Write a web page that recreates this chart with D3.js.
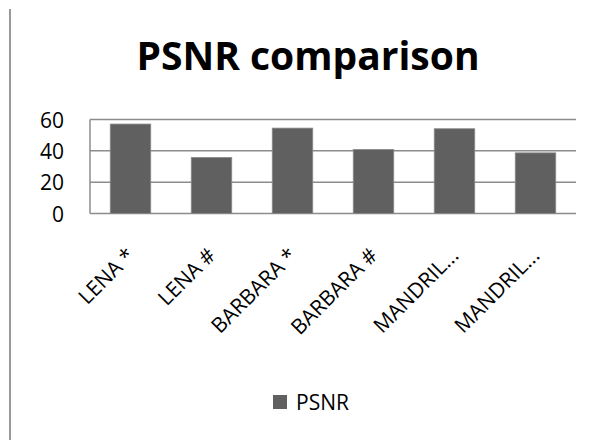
<!DOCTYPE html>
<html>
<head>
<meta charset="utf-8">
<script src="https://cdn.jsdelivr.net/npm/d3@7"></script>
<style>
  body { margin: 0; background: #fff; }
  svg { font-family: "Open Sans", "Noto Sans", sans-serif; }
</style>
</head>
<body>
<main></main>
<script>
const w = 602;
const h = 440;

const categories = ["LENA *", "LENA #", "BARBARA *", "BARBARA #", "MANDRIL...", "MANDRIL..."];
const psnr = [57.1, 35.8, 54.5, 40.9, 54.1, 38.7];
const yTicks = [0, 20, 40, 60];

const plotLeft = 90;
const plotRight = 576;
const plotTop = 119.5;
const plotBottom = 213.5;

const svg = d3.select("main")
    .append("svg")
    .attr("width", w)
    .attr("height", h);

// gray line at left border
svg.append("line")
    .attr("x1", 10).attr("x2", 10)
    .attr("y1", 9).attr("y2", h)
    .attr("stroke", "#999")
    .attr("stroke-width", 2);

svg.append("text")
    .attr("x", 308)
    .attr("y", 70)
    .attr("text-anchor", "middle")
    .attr("font-size", 39)
    .attr("font-weight", "bold")
    .attr("fill", "#000")
    .text("PSNR comparison");

const xScale = d3.scaleBand()
    .domain(d3.range(categories.length))
    .range([plotLeft, plotRight])
    .paddingInner(0.5)
    .paddingOuter(0.25);

const yScale = d3.scaleLinear()
    .domain([0, 60])
    .range([plotBottom, plotTop]);

// gridlines
svg.append("g")
    .selectAll("line")
    .data(yTicks)
    .enter()
    .append("line")
    .attr("x1", plotLeft)
    .attr("x2", plotRight)
    .attr("y1", d => yScale(d))
    .attr("y2", d => yScale(d))
    .attr("stroke", "#8c8c8c")
    .attr("stroke-width", 1.5);

// left axis line
svg.append("line")
    .attr("x1", plotLeft).attr("x2", plotLeft)
    .attr("y1", plotTop).attr("y2", plotBottom)
    .attr("stroke", "#8c8c8c")
    .attr("stroke-width", 1.5);

svg.selectAll("rect.bar")
    .data(psnr)
    .enter()
    .append("rect")
    .attr("class", "bar")
    .attr("x", (d, i) => xScale(i))
    .attr("y", d => yScale(d))
    .attr("width", xScale.bandwidth())
    .attr("height", d => plotBottom - yScale(d))
    .attr("fill", "#606060")
    .attr("stroke", "#8a8a8a")
    .attr("stroke-width", 0.8);

const yAxis = d3.axisLeft(yScale)
    .tickValues(yTicks)
    .tickSize(0)
    .tickPadding(0);

svg.append("g")
    .attr("transform", "translate(64, 0)")
    .call(yAxis)
    .call(g => g.select(".domain").remove())
    .selectAll("text")
    .attr("font-size", 21)
    .attr("font-family", "Open Sans")
    .attr("fill", "#000")
    .attr("dy", "0.36em");

const xAxis = d3.axisBottom(xScale)
    .tickFormat(i => categories[i])
    .tickSize(0);

svg.append("g")
    .attr("transform", "translate(0, " + plotBottom + ")")
    .call(xAxis)
    .call(g => g.select(".domain").remove())
    .selectAll("text")
    .attr("font-size", 21)
    .attr("font-family", "Open Sans")
    .attr("fill", "#000")
    .attr("text-anchor", "end")
    .attr("transform", "translate(-2, 36) rotate(-45)")
    .attr("dy", "0.35em");

// legend
const legend = svg.append("g").attr("transform", "translate(273, 395)");
legend.append("rect")
    .attr("width", 14).attr("height", 14)
    .attr("fill", "#606060");
legend.append("text")
    .attr("x", 23)
    .attr("y", 15)
    .attr("font-size", 21)
    .attr("fill", "#000")
    .text("PSNR");
</script>
</body>
</html>
